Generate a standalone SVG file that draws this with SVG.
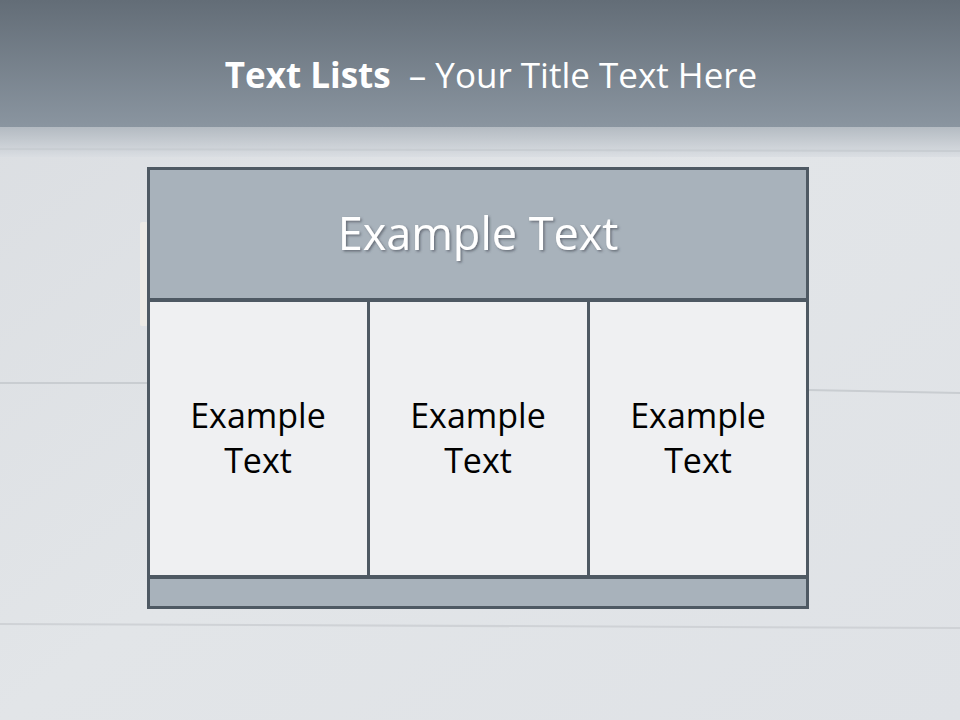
<svg xmlns="http://www.w3.org/2000/svg" width="960" height="720" viewBox="0 0 960 720">
<defs>
<linearGradient id="topband" x1="0" y1="0" x2="0" y2="1">
<stop offset="0" stop-color="#636d77"/>
<stop offset="1" stop-color="#8a95a0"/>
</linearGradient>
<linearGradient id="fade" x1="0" y1="0" x2="0" y2="1">
<stop offset="0" stop-color="#a9b1b9"/>
<stop offset="1" stop-color="#d9dde2"/>
</linearGradient>
<linearGradient id="bg" x1="0" y1="0" x2="1" y2="1">
<stop offset="0" stop-color="#dadde1"/>
<stop offset="0.5" stop-color="#e2e5e8"/>
<stop offset="1" stop-color="#dfe2e6"/>
</linearGradient>
<filter id="shadow" x="-10%" y="-30%" width="120%" height="160%">
<feDropShadow dx="1.5" dy="1.5" stdDeviation="1" flood-color="#3a434c" flood-opacity="0.6"/>
</filter>
<style>
.box{stroke:#4e5963;stroke-width:3}
.dark{fill:#a8b2bb}
.light{fill:#eff0f2}
.body{font-family:"Open Sans","Liberation Sans",sans-serif;font-size:34px;fill:#000;text-anchor:middle}
</style>
</defs>
<rect width="960" height="720" fill="url(#bg)"/>
<rect x="0" y="127" width="960" height="30" fill="url(#fade)" opacity="0.8"/>
<rect x="0" y="0" width="960" height="127" fill="url(#topband)"/>
<line x1="0" y1="149" x2="960" y2="151" stroke="#c8cdd2" stroke-width="2"/>
<line x1="0" y1="383" x2="148" y2="383" stroke="#c9cdd1" stroke-width="2"/>
<line x1="808" y1="390" x2="960" y2="393" stroke="#c9cdd1" stroke-width="2"/>
<line x1="0" y1="624" x2="960" y2="628" stroke="#cfd2d6" stroke-width="2"/>
<rect x="140" y="222" width="8" height="104" fill="#eceae6" rx="2"/>

<text x="491" y="88" font-family="'Open Sans','Liberation Sans',sans-serif" font-size="35" fill="#ffffff" text-anchor="middle"><tspan font-weight="bold">Text Lists</tspan><tspan dx="9"> – Your Title Text Here</tspan></text>

<g id="header">
<rect class="box dark" x="148.5" y="168.5" width="659" height="131"/>
<text x="478" y="250" font-family="'Open Sans','Liberation Sans',sans-serif" font-size="45" fill="#ffffff" text-anchor="middle" filter="url(#shadow)">Example Text</text>
</g>
<g id="col1">
<rect class="box light" x="148.5" y="300.5" width="220" height="276"/>
<text class="body" x="258" y="428">Example</text>
<text class="body" x="258" y="473">Text</text>
</g>
<g id="col2">
<rect class="box light" x="368.5" y="300.5" width="220" height="276"/>
<text class="body" x="478" y="428">Example</text>
<text class="body" x="478" y="473">Text</text>
</g>
<g id="col3">
<rect class="box light" x="588.5" y="300.5" width="219" height="276"/>
<text class="body" x="698" y="428">Example</text>
<text class="body" x="698" y="473">Text</text>
</g>
<g id="footer">
<rect class="box dark" x="148.5" y="577.5" width="659" height="30"/>
</g>
<g id="connectors"/>
</svg>
